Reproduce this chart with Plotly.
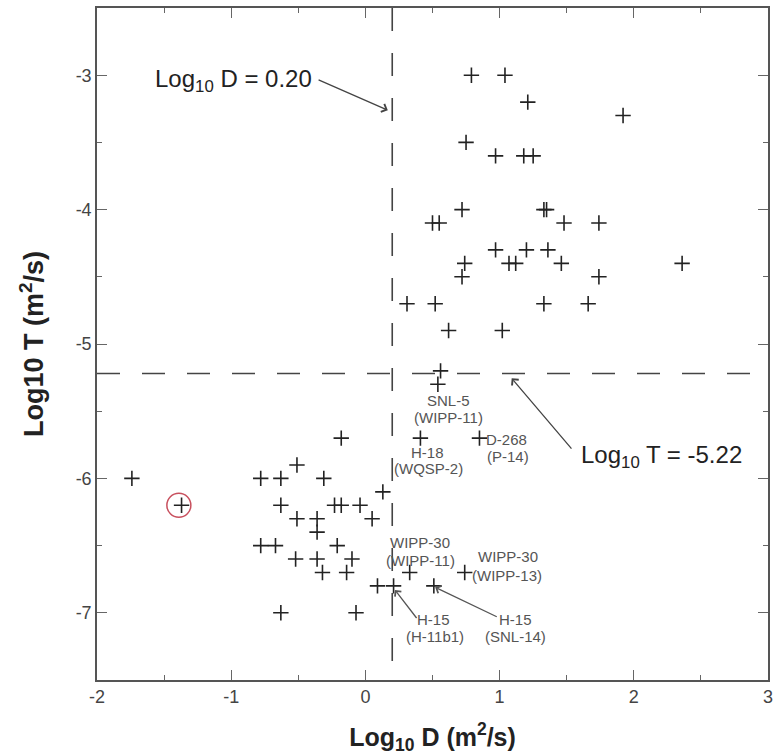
import plotly.graph_objects as go

# ---------------- data ----------------
D_vals = [0.79, 1.04, 1.21, 1.92, 0.75, 0.97, 1.18, 1.25, 0.72, 1.33, 1.35,
          0.50, 0.55, 1.48, 1.74, 0.97, 1.20, 1.36, 0.74, 1.07, 1.12, 1.46, 2.36,
          0.72, 1.74, 0.31, 0.52, 1.33, 1.66, 0.62, 1.02, 0.56, 0.54,
          0.41, 0.85, -0.18,
          -1.74, -1.37, -0.78, -0.63, -0.51, -0.31, 0.13, -0.63, -0.23, -0.18, -0.04,
          -0.51, -0.36, 0.05, -0.36, -0.78, -0.67, -0.21, -0.52, -0.36, -0.10,
          -0.32, -0.14, 0.33, 0.74, 0.09, 0.21, 0.51, -0.63, -0.07]
T_vals = [-3.0, -3.0, -3.2, -3.3, -3.5, -3.6, -3.6, -3.6, -4.0, -4.0, -4.0,
          -4.1, -4.1, -4.1, -4.1, -4.3, -4.3, -4.3, -4.4, -4.4, -4.4, -4.4, -4.4,
          -4.5, -4.5, -4.7, -4.7, -4.7, -4.7, -4.9, -4.9, -5.2, -5.3,
          -5.7, -5.7, -5.7,
          -6.0, -6.2, -6.0, -6.0, -5.9, -6.0, -6.1, -6.2, -6.2, -6.2, -6.2,
          -6.3, -6.3, -6.3, -6.4, -6.5, -6.5, -6.5, -6.6, -6.6, -6.6,
          -6.7, -6.7, -6.7, -6.7, -6.8, -6.8, -6.8, -7.0, -7.0]

highlight_D = [-1.39]
highlight_T = [-6.2]

D_threshold = 0.20
T_threshold = -5.22

x_ticks = [-2, -1, 0, 1, 2, 3]
y_ticks = [-7, -6, -5, -4, -3]

# well labels: (text, D, T)
well_labels = [
    ("SNL-5", 0.62, -5.42), ("(WIPP-11)", 0.62, -5.55),
    ("H-18", 0.46, -5.81), ("(WQSP-2)", 0.47, -5.93),
    ("D-268", 1.05, -5.71), ("(P-14)", 1.06, -5.84),
    ("WIPP-30", 0.41, -6.48), ("(WIPP-11)", 0.41, -6.61),
    ("WIPP-30", 1.06, -6.58), ("(WIPP-13)", 1.055, -6.72),
    ("H-15", 0.51, -7.05), ("(H-11b1)", 0.515, -7.18),
    ("H-15", 1.115, -7.05), ("(SNL-14)", 1.12, -7.18),
]
# arrows: (head D, head T, tail D, tail T)
label_arrows = [
    (0.22, -6.83, 0.39, -7.05),
    (0.52, -6.81, 0.99, -7.035),
]

FONT = "Liberation Sans, Arial, sans-serif"

fig = go.Figure()
fig.add_trace(go.Scatter(
    x=D_vals, y=T_vals, mode="markers",
    marker=dict(symbol="cross-thin", size=11, line=dict(width=1.6, color="#222")),
    showlegend=False, hoverinfo="x+y"))
fig.add_trace(go.Scatter(
    x=highlight_D, y=highlight_T, mode="markers",
    marker=dict(symbol="circle-open", size=24, line=dict(width=1.5, color="#c8505e"),
                color="#c8505e"),
    showlegend=False, hoverinfo="skip"))

# threshold lines
fig.add_shape(type="line", xref="x", yref="paper", x0=D_threshold, x1=D_threshold,
              y0=1, y1=0, line=dict(color="#444", width=1.6, dash="23px,22px"))
fig.add_shape(type="line", xref="paper", yref="y", x0=0, x1=1,
              y0=T_threshold, y1=T_threshold, line=dict(color="#444", width=1.6, dash="23px,22px"))

# main annotations
fig.add_annotation(x=0.167, y=-3.26, ax=-0.36, ay=-3.03, xref="x", yref="y",
                   axref="x", ayref="y", text="", showarrow=True,
                   arrowhead=4, arrowsize=1.3, arrowwidth=1.3, arrowcolor="#444")
fig.add_annotation(x=-0.98, y=-3.04, xref="x", yref="y", showarrow=False,
                   text=f"Log<sub>10</sub> D = {D_threshold:.2f}",
                   font=dict(family=FONT, size=24, color="#222"))
fig.add_annotation(x=1.09, y=-5.255, ax=1.545, ay=-5.79, xref="x", yref="y",
                   axref="x", ayref="y", text="", showarrow=True,
                   arrowhead=4, arrowsize=1.3, arrowwidth=1.3, arrowcolor="#444")
fig.add_annotation(x=2.21, y=-5.84, xref="x", yref="y", showarrow=False,
                   text=f"Log<sub>10</sub> T = {T_threshold:.2f}",
                   font=dict(family=FONT, size=24, color="#222"))

for txt, dx, ty in well_labels:
    fig.add_annotation(x=dx, y=ty, xref="x", yref="y", showarrow=False, text=txt,
                       font=dict(family=FONT, size=15, color="#555"))
for hx, hy, tx, tyy in label_arrows:
    fig.add_annotation(x=hx, y=hy, ax=tx, ay=tyy, xref="x", yref="y",
                       axref="x", ayref="y", text="", showarrow=True,
                       arrowhead=4, arrowsize=1.2, arrowwidth=1.3, arrowcolor="#555")

axis_common = dict(
    showline=True, linecolor="#555", linewidth=1.5, mirror="allticks",
    ticks="inside", ticklen=10, tickwidth=1.3, tickcolor="#666",
    showgrid=False, zeroline=False,
    tickfont=dict(family=FONT, size=18, color="#444"),
    minor=dict(ticks="inside", ticklen=5, tickwidth=1.2, tickcolor="#666", dtick=0.5),
)
fig.update_xaxes(range=[-2, 3], tickvals=x_ticks, ticktext=[str(v) for v in x_ticks],
                 title=dict(text="Log<sub>10</sub> D (m<sup>2</sup>/s)",
                            font=dict(family=FONT, size=25, color="#222", weight="bold"),
                            standoff=22),
                 **axis_common)
fig.update_yaxes(range=[-7.5, -2.5], tickvals=y_ticks, ticktext=[str(v) for v in y_ticks],
                 title=dict(text="Log10 T (m<sup>2</sup>/s)",
                            font=dict(family=FONT, size=27, color="#222", weight="bold"),
                            standoff=24),
                 **axis_common)

fig.update_layout(
    width=777, height=755,
    margin=dict(l=97, r=4, t=8, b=75),
    paper_bgcolor="white", plot_bgcolor="white",
    font=dict(family=FONT),
)
fig.write_html("out.html")
